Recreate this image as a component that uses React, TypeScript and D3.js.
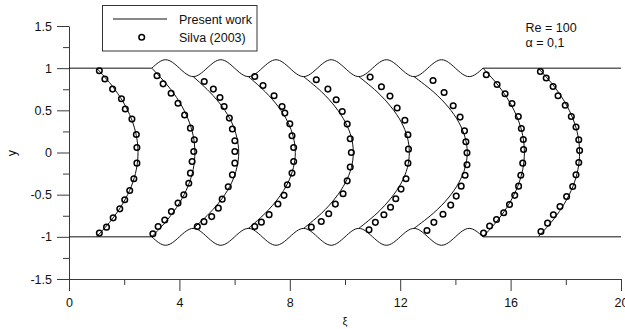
import React, { useRef, useEffect } from 'react';
import * as d3 from 'd3';

// axis ticks
const xTicks = [0, 4, 8, 12, 16, 20];
const xMinorTicks = [2, 6, 10, 14, 18];
const yTicks = [-1.5, -1, -0.5, 0, 0.5, 1, 1.5];
const yMinorTicks = [-1.25, -0.75, -0.25, 0.25, 0.75, 1.25];

// channel walls (upper wall; lower wall is its mirror)
const wallLeft: [number, number][] = [[0, 1], [3, 1]];
const wallRight: [number, number][] = [[15, 1], [20, 1]];
const waveXi = [3, 3.5, 4, 4.5, 5, 5.5, 6, 6.5, 7, 7.5, 8, 8.5, 9, 9.5, 10, 10.5, 11, 11.5, 12, 12.5, 13, 13.5, 14, 14.5, 15];
const waveTop = [1, 1.1, 1, 0.9, 1, 1.1, 1, 0.9, 1, 1.1, 1, 0.9, 1, 1.1, 1, 0.9, 1, 1.1, 1, 0.9, 1, 1.1, 1, 0.9, 1];

// present work: velocity profiles [xi, y], bottom to top
const present1: [number, number][] = [[1, -1], [1.54, -0.8], [1.96, -0.6], [2.26, -0.4], [2.44, -0.2], [2.5, 0], [2.44, 0.2], [2.26, 0.4], [1.96, 0.6], [1.54, 0.8], [1, 1]];
const present2: [number, number][] = [[3, -1], [3.56, -0.8], [4.0, -0.6], [4.31, -0.4], [4.5, -0.2], [4.56, 0], [4.5, 0.2], [4.31, 0.4], [4.0, 0.6], [3.56, 0.8], [3, 1]];
const present3: [number, number][] = [[4.5, -0.9], [5.09, -0.72], [5.56, -0.54], [5.89, -0.36], [6.08, -0.18], [6.15, 0], [6.08, 0.18], [5.89, 0.36], [5.56, 0.54], [5.09, 0.72], [4.5, 0.9]];
const present4: [number, number][] = [[6.5, -0.9], [7.11, -0.72], [7.59, -0.54], [7.93, -0.36], [8.13, -0.18], [8.2, 0], [8.13, 0.18], [7.93, 0.36], [7.59, 0.54], [7.11, 0.72], [6.5, 0.9]];
const present5: [number, number][] = [[8.5, -0.9], [9.15, -0.72], [9.65, -0.54], [10.01, -0.36], [10.23, -0.18], [10.3, 0], [10.23, 0.18], [10.01, 0.36], [9.65, 0.54], [9.15, 0.72], [8.5, 0.9]];
const present6: [number, number][] = [[10.5, -0.9], [11.16, -0.72], [11.67, -0.54], [12.04, -0.36], [12.26, -0.18], [12.33, 0], [12.26, 0.18], [12.04, 0.36], [11.67, 0.54], [11.16, 0.72], [10.5, 0.9]];
const present7: [number, number][] = [[12.5, -0.9], [13.2, -0.72], [13.74, -0.54], [14.12, -0.36], [14.35, -0.18], [14.43, 0], [14.35, 0.18], [14.12, 0.36], [13.74, 0.54], [13.2, 0.72], [12.5, 0.9]];
const present8: [number, number][] = [[15, -1], [15.54, -0.8], [15.96, -0.6], [16.26, -0.4], [16.44, -0.2], [16.5, 0], [16.44, 0.2], [16.26, 0.4], [15.96, 0.6], [15.54, 0.8], [15, 1]];
const present9: [number, number][] = [[17, -1], [17.54, -0.8], [17.96, -0.6], [18.26, -0.4], [18.44, -0.2], [18.5, 0], [18.44, 0.2], [18.26, 0.4], [17.96, 0.6], [17.54, 0.8], [17, 1]];
const presentWork = [present1, present2, present3, present4, present5, present6, present7, present8, present9];

// Silva (2003) points [xi, y]
const silva1: [number, number][] = [[1.10, 0.969], [1.30, 0.871], [1.58, 0.752], [1.90, 0.637], [2.04, 0.515], [2.28, 0.396], [2.44, 0.213], [2.46, 0.059], [2.46, -0.126], [2.35, -0.312], [2.20, -0.451], [2.02, -0.561], [1.84, -0.668], [1.60, -0.775], [1.36, -0.885], [1.10, -0.956]];
const silva2: [number, number][] = [[3.19, 0.91], [3.41, 0.814], [3.70, 0.702], [3.95, 0.584], [4.19, 0.445], [4.40, 0.289], [4.54, 0.151], [4.52, 0.012], [4.46, -0.107], [4.40, -0.245], [4.34, -0.364], [4.16, -0.502], [3.95, -0.60], [3.71, -0.70], [3.47, -0.80], [3.23, -0.878], [3.04, -0.964]];
const silva3: [number, number][] = [[4.90, 0.842], [5.23, 0.752], [5.47, 0.652], [5.62, 0.546], [5.81, 0.408], [5.92, 0.278], [6.01, 0.139], [6.01, 0.012], [6.01, -0.126], [5.92, -0.265], [5.77, -0.407], [5.55, -0.553], [5.41, -0.66], [5.17, -0.76], [4.89, -0.82], [4.65, -0.878]];
const silva4: [number, number][] = [[6.73, 0.902], [7.03, 0.795], [7.43, 0.673], [7.72, 0.546], [7.82, 0.467], [8.00, 0.340], [8.08, 0.198], [8.14, 0.059], [8.14, -0.107], [8.08, -0.244], [7.91, -0.383], [7.79, -0.508], [7.57, -0.61], [7.25, -0.737], [6.97, -0.826], [6.73, -0.878]];
const silva5: [number, number][] = [[8.96, 0.862], [9.38, 0.752], [9.68, 0.625], [9.90, 0.486], [10.08, 0.337], [10.19, 0.163], [10.23, 0.0], [10.19, -0.173], [10.08, -0.336], [9.93, -0.49], [9.65, -0.612], [9.41, -0.727], [9.14, -0.818], [8.78, -0.885]];
const silva6: [number, number][] = [[10.91, 0.894], [11.32, 0.779], [11.63, 0.669], [11.89, 0.527], [12.17, 0.382], [12.28, 0.21], [12.30, 0.04], [12.28, -0.126], [12.21, -0.312], [12.03, -0.434], [11.84, -0.549], [11.65, -0.65], [11.41, -0.739], [11.10, -0.828], [10.87, -0.917]];
const silva7: [number, number][] = [[13.19, 0.854], [13.59, 0.712], [13.92, 0.554], [14.17, 0.42], [14.33, 0.257], [14.38, 0.127], [14.42, -0.004], [14.42, -0.146], [14.35, -0.27], [14.21, -0.399], [14.03, -0.517], [13.83, -0.624], [13.55, -0.733], [13.22, -0.828], [12.97, -0.925]];
const silva8: [number, number][] = [[15.12, 0.922], [15.51, 0.807], [15.80, 0.696], [16.05, 0.581], [16.28, 0.427], [16.39, 0.285], [16.46, 0.154], [16.47, 0.036], [16.44, -0.126], [16.37, -0.27], [16.29, -0.399], [16.15, -0.508], [15.96, -0.617], [15.75, -0.715], [15.49, -0.795], [15.24, -0.872], [15.02, -0.956]];
const silva9: [number, number][] = [[17.08, 0.961], [17.29, 0.883], [17.54, 0.783], [17.72, 0.673], [17.98, 0.56], [18.20, 0.427], [18.37, 0.302], [18.47, 0.151], [18.50, 0.023], [18.47, -0.12], [18.37, -0.265], [18.25, -0.403], [18.03, -0.522], [17.79, -0.641], [17.55, -0.738], [17.34, -0.838], [17.10, -0.937]];
const silvaData = [silva1, silva2, silva3, silva4, silva5, silva6, silva7, silva8, silva9];

const WIDTH = 625;
const HEIGHT = 329;
const FONT = 'Liberation Sans, Arial, Helvetica, sans-serif';
const MARKER_R = 2.8;
const MARKER_W = 1.5;

const App: React.FC = () => {
  const svgRef = useRef<SVGSVGElement>(null);

  useEffect(() => {
    if (!svgRef.current) return;
    const svg = d3.select(svgRef.current);
    svg.selectAll('*').remove();

    const xScale = d3.scaleLinear().domain([0, 20]).range([69, 621]);
    const yScale = d3.scaleLinear().domain([-1.5, 1.5]).range([279, 26]);

    const axisColor = '#3a3a3a';

    // minor ticks
    const xMinor = svg.append('g').attr('transform', 'translate(0,279)')
      .call(d3.axisBottom(xScale).tickValues(xMinorTicks).tickSize(6).tickSizeOuter(0).tickFormat(() => ''));
    const yMinor = svg.append('g').attr('transform', 'translate(69,0)')
      .call(d3.axisLeft(yScale).tickValues(yMinorTicks).tickSize(6).tickSizeOuter(0).tickFormat(() => ''));
    [xMinor, yMinor].forEach((a) => {
      a.select('.domain').remove();
      a.selectAll('line').attr('stroke', axisColor);
    });

    // major axes
    const xAxis = svg.append('g').attr('transform', 'translate(0,279)')
      .call(d3.axisBottom(xScale).tickValues(xTicks).tickSize(12).tickSizeOuter(0).tickPadding(7).tickFormat((d) => String(d)));
    const yAxis = svg.append('g').attr('transform', 'translate(69,0)')
      .call(d3.axisLeft(yScale).tickValues(yTicks).tickSize(12).tickSizeOuter(0).tickPadding(5).tickFormat((d) => String(d)));
    [xAxis, yAxis].forEach((a) => {
      a.select('.domain').attr('stroke', axisColor);
      a.selectAll('line').attr('stroke', axisColor);
      a.selectAll('text').attr('fill', '#111').style('font-family', FONT).style('font-size', '12.5px');
    });

    // axis titles
    svg.append('text')
      .attr('x', 345).attr('y', 325)
      .attr('text-anchor', 'middle')
      .style('font-family', FONT).style('font-size', '11px').attr('fill', '#111')
      .text('ξ');
    svg.append('text')
      .attr('transform', 'translate(16,153) rotate(-90)')
      .attr('text-anchor', 'middle')
      .style('font-family', FONT).style('font-size', '12.5px').attr('fill', '#111')
      .text('y');

    const plot = svg.append('g');

    // walls
    const straight = d3.line<[number, number]>().x((d) => xScale(d[0])).y((d) => yScale(d[1]));
    const wavy = d3.line<[number, number]>().x((d) => xScale(d[0])).y((d) => yScale(d[1])).curve(d3.curveNatural);
    const topWave: [number, number][] = waveXi.map((x, i) => [x, waveTop[i]]);
    const mirror = (pts: [number, number][]) => pts.map(([x, y]) => [x, -y] as [number, number]);

    [wallLeft, wallRight, mirror(wallLeft), mirror(wallRight)].forEach((pts) => {
      plot.append('path').attr('d', straight(pts)).attr('fill', 'none').attr('stroke', '#111').attr('stroke-width', 1);
    });
    [topWave, mirror(topWave)].forEach((pts) => {
      plot.append('path').attr('d', wavy(pts)).attr('fill', 'none').attr('stroke', '#111').attr('stroke-width', 1);
    });

    // present work profiles
    const profile = d3.line<[number, number]>().x((d) => xScale(d[0])).y((d) => yScale(d[1])).curve(d3.curveCatmullRom.alpha(0.5));
    presentWork.forEach((pts) => {
      plot.append('path').attr('d', profile(pts)).attr('fill', 'none').attr('stroke', '#111').attr('stroke-width', 1);
    });

    // Silva (2003) circles
    silvaData.forEach((pts) => {
      plot.selectAll(null)
        .data(pts)
        .enter()
        .append('circle')
        .attr('cx', (d) => xScale(d[0]))
        .attr('cy', (d) => yScale(d[1]))
        .attr('r', MARKER_R)
        .attr('fill', 'none')
        .attr('stroke', '#000')
        .attr('stroke-width', MARKER_W);
    });

    // legend
    const legend = svg.append('g');
    legend.append('rect')
      .attr('x', 102.5).attr('y', 5.5).attr('width', 154.5).attr('height', 45.5)
      .attr('fill', 'white').attr('stroke', '#333').attr('stroke-width', 1);
    legend.append('line')
      .attr('x1', 113).attr('x2', 167).attr('y1', 19).attr('y2', 19)
      .attr('stroke', '#111').attr('stroke-width', 1);
    legend.append('circle')
      .attr('cx', 141.7).attr('cy', 37.3).attr('r', MARKER_R)
      .attr('fill', 'none').attr('stroke', '#000').attr('stroke-width', MARKER_W);
    legend.append('text').attr('x', 179).attr('y', 24)
      .style('font-family', FONT).style('font-size', '12.5px').attr('fill', '#111')
      .text('Present work');
    legend.append('text').attr('x', 179).attr('y', 41.5)
      .style('font-family', FONT).style('font-size', '12.5px').attr('fill', '#111')
      .text('Silva (2003)');

    // annotation
    svg.append('text').attr('x', 525.5).attr('y', 31.5)
      .style('font-family', FONT).style('font-size', '12.5px').attr('fill', '#111')
      .text('Re = 100');
    svg.append('text').attr('x', 525.5).attr('y', 46.5)
      .style('font-family', FONT).style('font-size', '12.5px').attr('fill', '#111')
      .text('α = 0,1');
  }, []);

  return (
    <svg
      ref={svgRef}
      width={WIDTH}
      height={HEIGHT}
      style={{ position: 'absolute', left: 0, top: 0, display: 'block', background: 'white' }}
    />
  );
};

export default App;
